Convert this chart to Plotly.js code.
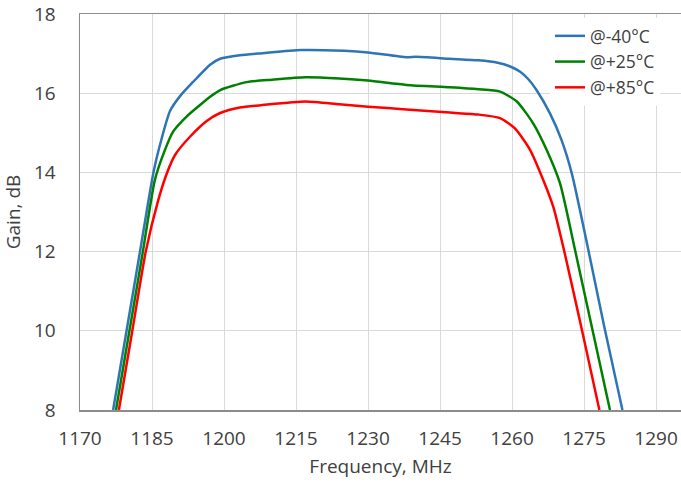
<!DOCTYPE html>
<html>
<head>
<meta charset="utf-8">
<script src="https://cdn.plot.ly/plotly-3.0.1.min.js"></script>
<style>html,body{margin:0;padding:0;background:#fff;}#chart{width:681px;height:484px;}</style>
</head>
<body>
<div id="chart"></div>
<script>
// Frequency (MHz) and gain (dB)
const freqM40 = [1176.9, 1179.7, 1182.5, 1185.3, 1187.0, 1188.75, 1190.8, 1193.6, 1197.1, 1199.2, 1203.3, 1208, 1216, 1225, 1230, 1238, 1240, 1247, 1253, 1257, 1259.5, 1261.7, 1263.5, 1265.1, 1267.9, 1270.3, 1272.5, 1279.4, 1283.0];
const gainM40 = [8.0, 10.0, 12.0, 14.0, 14.85, 15.55, 15.92, 16.29, 16.72, 16.87, 16.96, 17.01, 17.09, 17.07, 17.03, 16.91, 16.92, 16.87, 16.83, 16.77, 16.68, 16.54, 16.34, 16.08, 15.49, 14.82, 13.95, 10.0, 8.0];

const freqP25 = [1177.5, 1180.3, 1183.1, 1185.6, 1187.7, 1189.4, 1192.2, 1195, 1197.1, 1199.2, 1204.7, 1210, 1217, 1224, 1230, 1238, 1247, 1253, 1257.5, 1261, 1264.4, 1267.2, 1270, 1273.2, 1276.8, 1280.4];
const gainP25 = [8.0, 10.0, 12.0, 13.81, 14.57, 15.03, 15.41, 15.70, 15.91, 16.08, 16.28, 16.34, 16.40, 16.37, 16.32, 16.21, 16.15, 16.10, 16.04, 15.79, 15.24, 14.57, 13.72, 12.0, 10.0, 8.0];

const freqP85 = [1178.1, 1180.9, 1183.7, 1186.3, 1188.1, 1189.8, 1192.9, 1196.4, 1199.2, 1203.3, 1208, 1217, 1224, 1230, 1238, 1247, 1253, 1257.5, 1260.6, 1263.75, 1266.5, 1268.6, 1270.9, 1274.6, 1278.2];
const gainP85 = [8.0, 10.0, 12.0, 13.3, 13.98, 14.44, 14.90, 15.30, 15.50, 15.64, 15.70, 15.79, 15.72, 15.66, 15.59, 15.51, 15.46, 15.37, 15.11, 14.57, 13.81, 13.13, 12.0, 10.0, 8.0];

const seriesNames = ['@-40°C', '@+25°C', '@+85°C'];
const xTicks = [1170, 1185, 1200, 1215, 1230, 1245, 1260, 1275, 1290];
const yTicks = [8, 10, 12, 14, 16, 18];

const colors = ['#2E75B6', '#008000', '#FF0000'];
const xs = [freqM40, freqP25, freqP85];
const ys = [gainM40, gainP25, gainP85];

const traces = xs.map((x, i) => ({
  x: x, y: ys[i], name: seriesNames[i], type: 'scatter', mode: 'lines',
  line: {color: colors[i], width: 2.5, shape: 'spline', smoothing: 0.6},
  cliponaxis: true
}));

const fontFam = 'Open Sans, sans-serif';
const txt = '#404040';
const layout = {
  width: 681, height: 484,
  margin: {l: 80, r: 0, t: 14, b: 74},
  paper_bgcolor: '#fff', plot_bgcolor: '#fff',
  font: {family: fontFam, size: 19, color: txt},
  showlegend: true,
  legend: {x: 0.782, y: 0.99, xanchor: 'left', yanchor: 'top', bgcolor: '#fff',
    font: {family: fontFam, size: 17.5, color: txt}, itemwidth: 30, tracegroupgap: 0},
  xaxis: {
    range: [1170, 1295.2], tickvals: xTicks, ticktext: xTicks.map(String),
    tickfont: {family: fontFam, size: 19, color: txt},
    showgrid: true, gridcolor: '#d9d9d9', gridwidth: 1,
    showline: true, linecolor: '#8c8c8c', linewidth: 1.5, mirror: true,
    ticks: '', ticklabelstandoff: 11, zeroline: false,
    title: {text: 'Frequency, MHz', font: {family: fontFam, size: 19, color: txt}, standoff: 9}
  },
  yaxis: {
    range: [8, 18], tickvals: yTicks, ticktext: yTicks.map(String),
    tickfont: {family: fontFam, size: 19, color: txt},
    showgrid: true, gridcolor: '#d9d9d9', gridwidth: 1,
    showline: true, linecolor: '#8c8c8c', linewidth: 1.5,
    ticks: '', ticklabelstandoff: 19, zeroline: false,
    title: {text: 'Gain, dB', font: {family: fontFam, size: 19, color: txt}, standoff: 13}
  }
};

Plotly.newPlot('chart', traces, layout, {displayModeBar: false, staticPlot: true});
</script>
</body>
</html>
